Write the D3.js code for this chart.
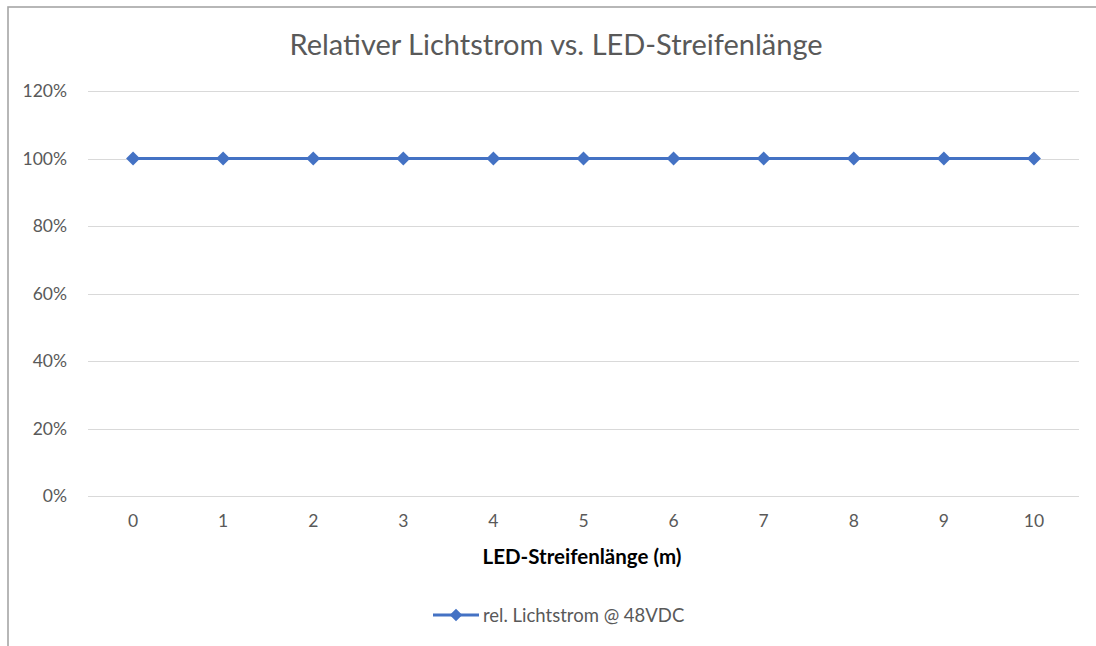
<!DOCTYPE html>
<html><head><meta charset="utf-8">
<script src="https://cdn.jsdelivr.net/npm/d3@7"></script>
<style>body{margin:0;background:#fff;font-family:Lato,"Open Sans",sans-serif;}</style>
</head><body><svg id="c" width="1096" height="646"></svg>
<script>
const categories = [0,1,2,3,4,5,6,7,8,9,10];
const values = [1,1,1,1,1,1,1,1,1,1,1];
const yTicks = [0,0.2,0.4,0.6,0.8,1.0,1.2];
const title = "Relativer Lichtstrom vs. LED-Streifenlänge";
const xTitle = "LED-Streifenlänge (m)";
const seriesName = "rel. Lichtstrom @ 48VDC";

const svg = d3.select("#c");
const color = "#4472C4";
const txt = "#595959";
svg.append("rect").attr("x",8).attr("y",7).attr("width",1200).attr("height",700)
  .attr("fill","#fff").attr("stroke","#a6a6a6").attr("stroke-width",1.6);

const x = d3.scaleBand().domain(categories).range([88,1079]);
const y = d3.scaleLinear().domain([0,1.2]).range([496,91]);

svg.append("g").selectAll("line").data(yTicks).join("line")
  .attr("x1",88).attr("x2",1079).attr("y1",d=>Math.round(y(d))+0.5).attr("y2",d=>Math.round(y(d))+0.5)
  .attr("stroke","#d9d9d9").attr("stroke-width",1);

const yAxis = svg.append("g").attr("transform","translate(88,0)")
  .call(d3.axisLeft(y).tickValues(yTicks).tickFormat(d3.format(".0%")).tickSize(0).tickPadding(21));
yAxis.select(".domain").remove();
yAxis.selectAll("text").attr("fill",txt).style("font-size","17.5px").style("font-family","Lato");

const xAxis = svg.append("g").attr("transform","translate(0,496)")
  .call(d3.axisBottom(x).tickSize(0).tickPadding(19));
xAxis.select(".domain").remove();
xAxis.selectAll("text").attr("fill",txt).style("font-size","17.5px").style("font-family","Lato");

svg.append("text").attr("x",556).attr("y",55).attr("text-anchor","middle")
  .attr("fill",txt).style("font-size","29px").style("font-family","Lato").text(title);
svg.append("text").attr("x",582).attr("y",564).attr("text-anchor","middle")
  .attr("fill","#000").style("font-size","20.5px").style("font-weight","bold").style("font-family","Lato").text(xTitle);

const cx = d => x(d)+x.bandwidth()/2;
svg.append("path").datum(values.map((v,i)=>[categories[i],v]))
  .attr("d", d3.line().x(d=>cx(d[0])).y(d=>y(d[1])))
  .attr("fill","none").attr("stroke",color).attr("stroke-width",3.2);
const diamond = d3.symbol().type(d3.symbolDiamond2).size(125);
svg.append("g").selectAll("path").data(values.map((v,i)=>[categories[i],v])).join("path")
  .attr("transform",d=>`translate(${cx(d[0])},${y(d[1])})`).attr("d",diamond).attr("fill",color);

const lg = svg.append("g").attr("transform","translate(433,615)");
lg.append("line").attr("x1",0).attr("x2",46).attr("stroke",color).attr("stroke-width",3.2);
lg.append("path").attr("transform","translate(23,0)").attr("d",d3.symbol().type(d3.symbolDiamond2).size(100)).attr("fill",color);
lg.append("text").attr("x",50).attr("y",6.5).attr("fill",txt).style("font-size","18.5px").style("font-family","Lato").text(seriesName);
</script></body></html>
